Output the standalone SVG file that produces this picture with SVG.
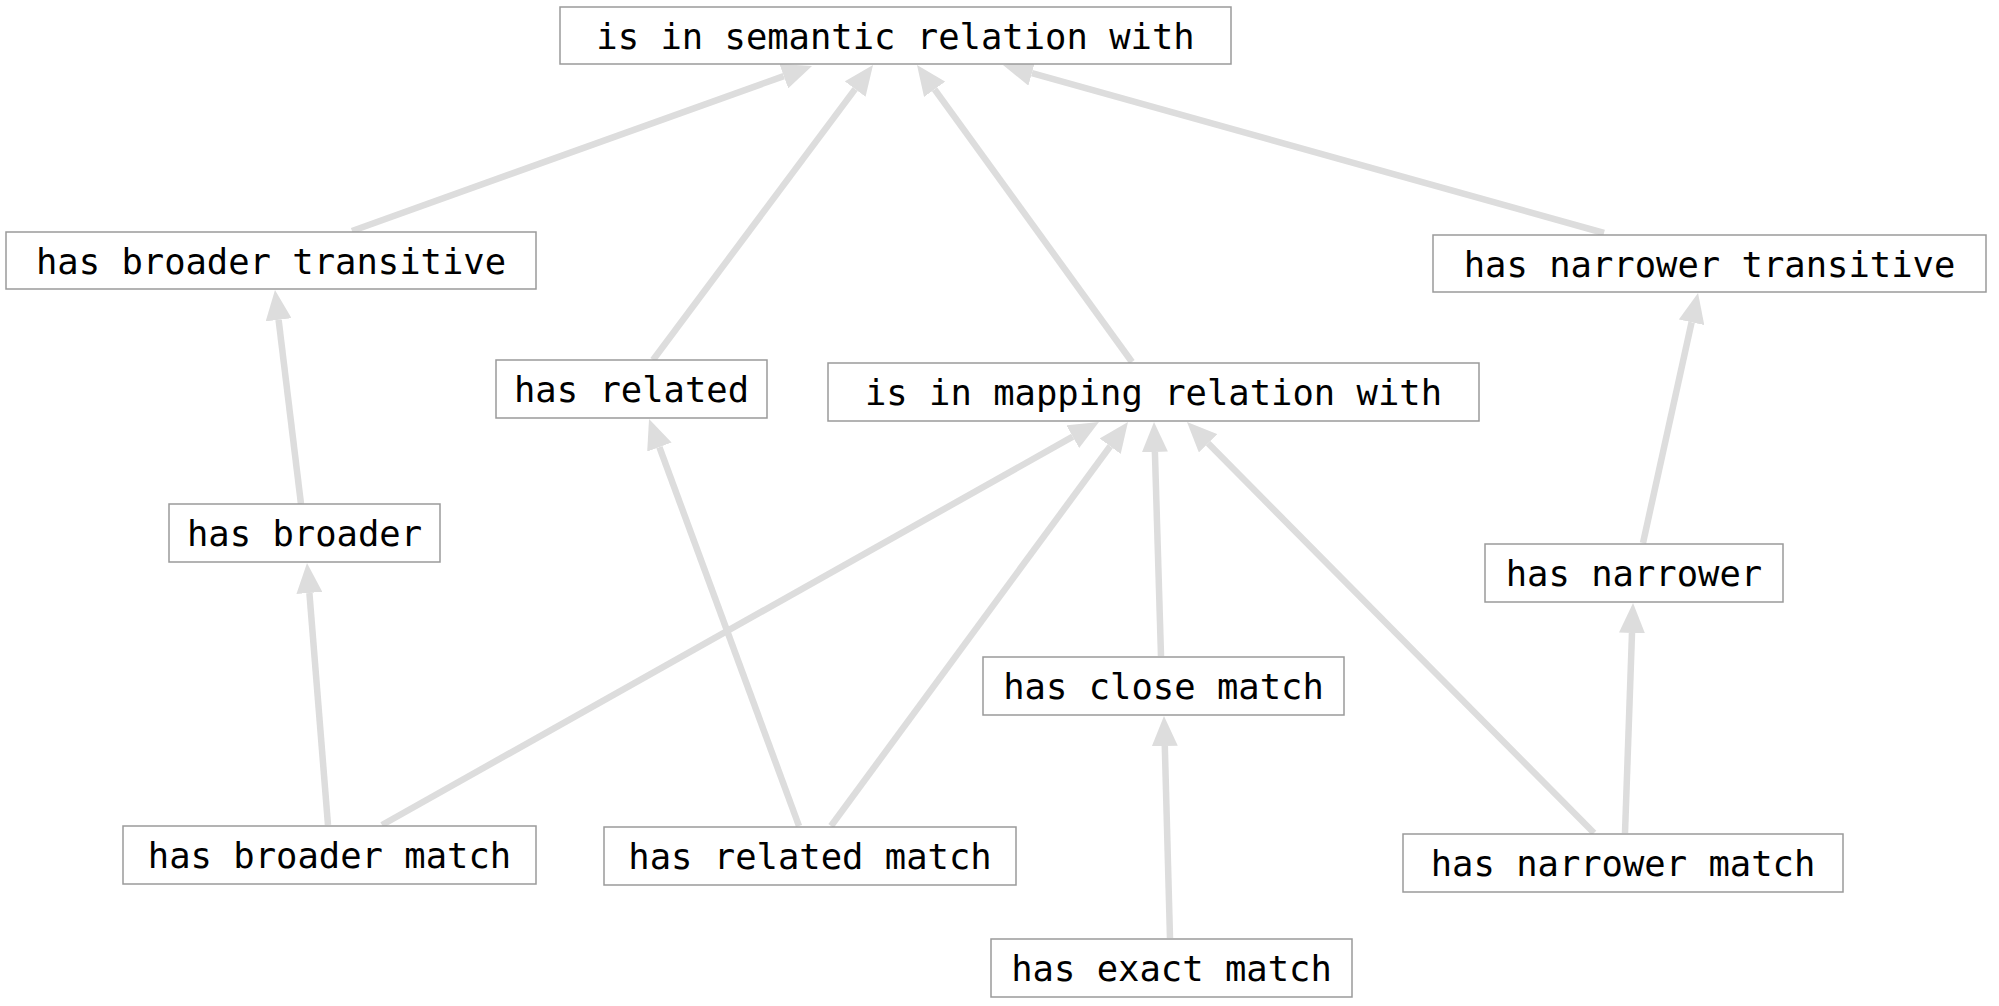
<svg xmlns="http://www.w3.org/2000/svg" width="1999" height="1006" viewBox="0 0 1999 1006">
<style>
.box{fill:#fff;stroke:#9a9a9a;stroke-width:1.5}
.lbl{font-family:"DejaVu Sans Mono","Liberation Mono",monospace;font-size:35.5px;fill:#000;text-anchor:middle}
.edge{stroke:#dddddd;stroke-width:6.5;fill:none;marker-end:url(#arr)}
</style>
<defs>
<marker id="arr" markerUnits="userSpaceOnUse" viewBox="0 0 30 26" refX="0" refY="13" markerWidth="30" markerHeight="26" orient="auto">
<path d="M0,0 L30,13 L0,26 z" fill="#dddddd"/>
</marker>
</defs>
<rect width="1999" height="1006" fill="#fff"/>
<g id="connectors">
<line class="edge" x1="352" y1="231" x2="783.8" y2="76.1"/>
<line class="edge" x1="653" y1="360" x2="855.1" y2="89.1"/>
<line class="edge" x1="1132" y1="362" x2="934.6" y2="89.3"/>
<line class="edge" x1="1604" y1="233" x2="1031.9" y2="73.1"/>
<line class="edge" x1="301" y1="504" x2="278.6" y2="319.8"/>
<line class="edge" x1="328" y1="825" x2="309.4" y2="592.9"/>
<line class="edge" x1="382" y1="825" x2="1072.8" y2="436.7"/>
<line class="edge" x1="799" y1="826" x2="659.4" y2="447.1"/>
<line class="edge" x1="831" y1="826" x2="1110.2" y2="446.2"/>
<line class="edge" x1="1161" y1="656" x2="1154.9" y2="452"/>
<line class="edge" x1="1170" y1="938" x2="1164.8" y2="746"/>
<line class="edge" x1="1594" y1="833" x2="1208.1" y2="443.3"/>
<line class="edge" x1="1625" y1="833" x2="1632" y2="633"/>
<line class="edge" x1="1643" y1="543" x2="1691.6" y2="322.3"/>
</g>
<g id="n-semantic"><rect class="box" x="560" y="7" width="671" height="57"/><text class="lbl" x="895.5" y="48.5">is in semantic relation with</text></g>
<g id="n-broader-transitive"><rect class="box" x="6" y="232" width="530" height="57"/><text class="lbl" x="271" y="273.5">has broader transitive</text></g>
<g id="n-narrower-transitive"><rect class="box" x="1433" y="235" width="553" height="57"/><text class="lbl" x="1709.5" y="276.5">has narrower transitive</text></g>
<g id="n-related"><rect class="box" x="496" y="360" width="271" height="58"/><text class="lbl" x="631.5" y="402">has related</text></g>
<g id="n-mapping"><rect class="box" x="828" y="363" width="651" height="58"/><text class="lbl" x="1153.5" y="405">is in mapping relation with</text></g>
<g id="n-broader"><rect class="box" x="169" y="504" width="271" height="58"/><text class="lbl" x="304.5" y="546">has broader</text></g>
<g id="n-narrower"><rect class="box" x="1485" y="544" width="298" height="58"/><text class="lbl" x="1634" y="586">has narrower</text></g>
<g id="n-close-match"><rect class="box" x="983" y="657" width="361" height="58"/><text class="lbl" x="1163.5" y="699">has close match</text></g>
<g id="n-broader-match"><rect class="box" x="123" y="826" width="413" height="58"/><text class="lbl" x="329.5" y="868">has broader match</text></g>
<g id="n-related-match"><rect class="box" x="604" y="827" width="412" height="58"/><text class="lbl" x="810" y="869">has related match</text></g>
<g id="n-narrower-match"><rect class="box" x="1403" y="834" width="440" height="58"/><text class="lbl" x="1623" y="876">has narrower match</text></g>
<g id="n-exact-match"><rect class="box" x="991" y="939" width="361" height="58"/><text class="lbl" x="1171.5" y="981">has exact match</text></g>
</svg>
